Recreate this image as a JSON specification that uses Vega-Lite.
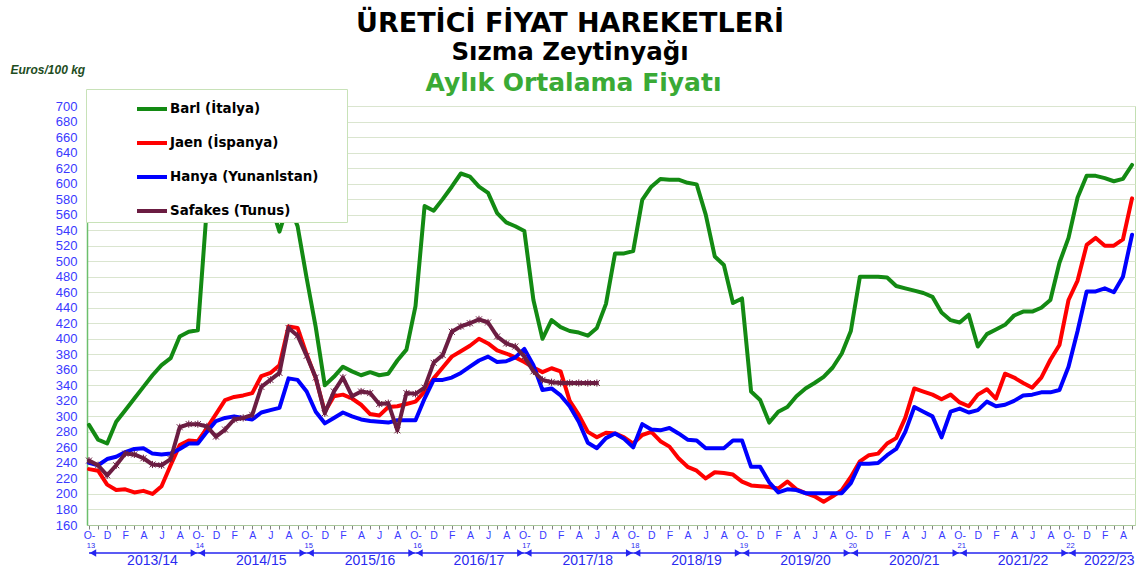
{
  "$schema": "https://vega.github.io/schema/vega-lite/v6.json",
  "width": 1048,
  "height": 419,
  "autosize": {"type": "none"},
  "padding": {"left": 87, "top": 106, "right": 4, "bottom": 48},
  "background": "white",
  "config": {
    "view": {"stroke": "#c2dfb2", "strokeWidth": 1},
    "font": "Liberation Sans"
  },
  "title": {
    "text": "ÜRETİCİ FİYAT HAREKETLERİ",
    "subtitle": "Sızma Zeytinyağı",
    "anchor": "middle",
    "frame": "group",
    "dx": -41,
    "dy": 4,
    "offset": 2,
    "font": "DejaVu Sans",
    "fontSize": 27,
    "fontWeight": "bold",
    "color": "#000000",
    "subtitleFont": "DejaVu Sans",
    "subtitleFontSize": 24.5,
    "subtitleFontWeight": "bold",
    "subtitleColor": "#000000",
    "subtitlePadding": 3
  },
  "datasets": {
    "prices": [
      {"m":0,"bari":289,"jaen":232,"hanya":240,"safakes":243},
      {"m":1,"bari":270,"jaen":230,"hanya":237,"safakes":237},
      {"m":2,"bari":265,"jaen":212,"hanya":245,"safakes":224},
      {"m":3,"bari":293,"jaen":205,"hanya":248,"safakes":237},
      {"m":4,"bari":308,"jaen":206,"hanya":254,"safakes":252},
      {"m":5,"bari":323,"jaen":202,"hanya":258,"safakes":251},
      {"m":6,"bari":338,"jaen":204,"hanya":259,"safakes":246},
      {"m":7,"bari":353,"jaen":200,"hanya":252,"safakes":238},
      {"m":8,"bari":366,"jaen":210,"hanya":251,"safakes":237},
      {"m":9,"bari":375,"jaen":237,"hanya":252,"safakes":245},
      {"m":10,"bari":403,"jaen":263,"hanya":258,"safakes":286},
      {"m":11,"bari":409,"jaen":269,"hanya":265,"safakes":290},
      {"m":12,"bari":411,"jaen":268,"hanya":265,"safakes":290},
      {"m":13,"bari":570,"jaen":285,"hanya":280,"safakes":287},
      {"m":14,"bari":615,"jaen":303,"hanya":294,"safakes":274},
      {"m":15,"bari":625,"jaen":321,"hanya":298,"safakes":283},
      {"m":16,"bari":630,"jaen":325,"hanya":300,"safakes":296},
      {"m":17,"bari":635,"jaen":327,"hanya":298,"safakes":298},
      {"m":18,"bari":630,"jaen":330,"hanya":296,"safakes":302},
      {"m":19,"bari":610,"jaen":352,"hanya":305,"safakes":338},
      {"m":20,"bari":575,"jaen":356,"hanya":308,"safakes":347},
      {"m":21,"bari":538,"jaen":366,"hanya":311,"safakes":356},
      {"m":22,"bari":575,"jaen":416,"hanya":349,"safakes":414},
      {"m":23,"bari":545,"jaen":414,"hanya":347,"safakes":404},
      {"m":24,"bari":478,"jaen":380,"hanya":332,"safakes":378},
      {"m":25,"bari":415,"jaen":349,"hanya":306,"safakes":350},
      {"m":26,"bari":340,"jaen":306,"hanya":291,"safakes":304},
      {"m":27,"bari":351,"jaen":326,"hanya":298,"safakes":332},
      {"m":28,"bari":364,"jaen":328,"hanya":305,"safakes":350},
      {"m":29,"bari":358,"jaen":323,"hanya":300,"safakes":326},
      {"m":30,"bari":353,"jaen":315,"hanya":296,"safakes":332},
      {"m":31,"bari":357,"jaen":303,"hanya":294,"safakes":330},
      {"m":32,"bari":353,"jaen":301,"hanya":293,"safakes":316},
      {"m":33,"bari":355,"jaen":312,"hanya":292,"safakes":317},
      {"m":34,"bari":372,"jaen":313,"hanya":295,"safakes":282},
      {"m":35,"bari":386,"jaen":316,"hanya":295,"safakes":330},
      {"m":36,"bari":442,"jaen":319,"hanya":295,"safakes":329},
      {"m":37,"bari":571,"jaen":332,"hanya":323,"safakes":337},
      {"m":38,"bari":565,"jaen":349,"hanya":347,"safakes":369},
      {"m":39,"bari":580,"jaen":363,"hanya":347,"safakes":379},
      {"m":40,"bari":596,"jaen":377,"hanya":350,"safakes":409},
      {"m":41,"bari":613,"jaen":384,"hanya":356,"safakes":416},
      {"m":42,"bari":609,"jaen":391,"hanya":364,"safakes":420},
      {"m":43,"bari":596,"jaen":400,"hanya":372,"safakes":425},
      {"m":44,"bari":588,"jaen":394,"hanya":377,"safakes":421},
      {"m":45,"bari":562,"jaen":385,"hanya":370,"safakes":403},
      {"m":46,"bari":550,"jaen":381,"hanya":371,"safakes":394},
      {"m":47,"bari":545,"jaen":376,"hanya":376,"safakes":390},
      {"m":48,"bari":539,"jaen":370,"hanya":387,"safakes":377},
      {"m":49,"bari":450,"jaen":363,"hanya":366,"safakes":358},
      {"m":50,"bari":400,"jaen":357,"hanya":334,"safakes":347},
      {"m":51,"bari":424,"jaen":362,"hanya":336,"safakes":344},
      {"m":52,"bari":415,"jaen":358,"hanya":327,"safakes":343},
      {"m":53,"bari":410,"jaen":320,"hanya":313,"safakes":343},
      {"m":54,"bari":408,"jaen":302,"hanya":293,"safakes":343},
      {"m":55,"bari":404,"jaen":280,"hanya":266,"safakes":343},
      {"m":56,"bari":414,"jaen":273,"hanya":259,"safakes":343},
      {"m":57,"bari":445,"jaen":279,"hanya":272},
      {"m":58,"bari":510,"jaen":278,"hanya":278},
      {"m":59,"bari":510,"jaen":273,"hanya":271},
      {"m":60,"bari":513,"jaen":265,"hanya":260},
      {"m":61,"bari":579,"jaen":276,"hanya":290},
      {"m":62,"bari":596,"jaen":280,"hanya":283},
      {"m":63,"bari":606,"jaen":268,"hanya":282},
      {"m":64,"bari":605,"jaen":261,"hanya":285},
      {"m":65,"bari":605,"jaen":246,"hanya":278},
      {"m":66,"bari":601,"jaen":235,"hanya":270},
      {"m":67,"bari":599,"jaen":230,"hanya":269},
      {"m":68,"bari":560,"jaen":220,"hanya":259},
      {"m":69,"bari":506,"jaen":228,"hanya":259},
      {"m":70,"bari":495,"jaen":227,"hanya":259},
      {"m":71,"bari":446,"jaen":225,"hanya":269},
      {"m":72,"bari":452,"jaen":216,"hanya":269},
      {"m":73,"bari":332,"jaen":211,"hanya":235},
      {"m":74,"bari":321,"jaen":210,"hanya":235},
      {"m":75,"bari":292,"jaen":209,"hanya":215},
      {"m":76,"bari":306,"jaen":207,"hanya":202},
      {"m":77,"bari":312,"jaen":216,"hanya":206},
      {"m":78,"bari":326,"jaen":206,"hanya":205},
      {"m":79,"bari":336,"jaen":201,"hanya":201},
      {"m":80,"bari":343,"jaen":197,"hanya":201},
      {"m":81,"bari":351,"jaen":190,"hanya":201},
      {"m":82,"bari":363,"jaen":197,"hanya":201},
      {"m":83,"bari":381,"jaen":205,"hanya":201},
      {"m":84,"bari":410,"jaen":222,"hanya":214},
      {"m":85,"bari":480,"jaen":242,"hanya":239},
      {"m":86,"bari":480,"jaen":250,"hanya":239},
      {"m":87,"bari":480,"jaen":252,"hanya":240},
      {"m":88,"bari":479,"jaen":265,"hanya":250},
      {"m":89,"bari":468,"jaen":272,"hanya":258},
      {"m":90,"bari":465,"jaen":298,"hanya":280},
      {"m":91,"bari":462,"jaen":336,"hanya":312},
      {"m":92,"bari":459,"jaen":332,"hanya":306},
      {"m":93,"bari":454,"jaen":328,"hanya":300},
      {"m":94,"bari":434,"jaen":322,"hanya":273},
      {"m":95,"bari":424,"jaen":328,"hanya":306},
      {"m":96,"bari":421,"jaen":318,"hanya":310},
      {"m":97,"bari":431,"jaen":313,"hanya":305},
      {"m":98,"bari":390,"jaen":328,"hanya":308},
      {"m":99,"bari":406,"jaen":335,"hanya":319},
      {"m":100,"bari":412,"jaen":323,"hanya":313},
      {"m":101,"bari":418,"jaen":355,"hanya":315},
      {"m":102,"bari":430,"jaen":350,"hanya":320},
      {"m":103,"bari":435,"jaen":343,"hanya":327},
      {"m":104,"bari":435,"jaen":337,"hanya":328},
      {"m":105,"bari":440,"jaen":350,"hanya":331},
      {"m":106,"bari":450,"jaen":373,"hanya":331},
      {"m":107,"bari":498,"jaen":392,"hanya":334},
      {"m":108,"bari":530,"jaen":450,"hanya":364},
      {"m":109,"bari":582,"jaen":475,"hanya":410},
      {"m":110,"bari":610,"jaen":521,"hanya":461},
      {"m":111,"bari":610,"jaen":530,"hanya":461},
      {"m":112,"bari":607,"jaen":520,"hanya":465},
      {"m":113,"bari":603,"jaen":520,"hanya":460},
      {"m":114,"bari":606,"jaen":528,"hanya":480},
      {"m":115,"bari":624,"jaen":581,"hanya":534}
    ],
    "seasons": [
      {"season":"2013/14","yr":"13","s":0,"e":12,"mid":6},
      {"season":"2014/15","yr":"14","s":12,"e":24,"mid":18},
      {"season":"2015/16","yr":"15","s":24,"e":36,"mid":30},
      {"season":"2016/17","yr":"16","s":36,"e":48,"mid":42},
      {"season":"2017/18","yr":"17","s":48,"e":60,"mid":54},
      {"season":"2018/19","yr":"18","s":60,"e":72,"mid":66},
      {"season":"2019/20","yr":"19","s":72,"e":84,"mid":78},
      {"season":"2020/21","yr":"20","s":84,"e":96,"mid":90},
      {"season":"2021/22","yr":"21","s":96,"e":108,"mid":102},
      {"season":"2022/23","yr":"22","s":108,"e":115,"mid":111.5}
    ]
  },
  "resolve": {"axis": {"x": "independent", "y": "independent"}},
  "layer": [
    {
      "data": {"name": "prices"},
      "transform": [{"fold": ["bari", "jaen", "hanya", "safakes"], "as": ["series", "value"]}],
      "mark": {"type": "line", "strokeJoin": "round", "strokeCap": "round"},
      "encoding": {
        "x": {
          "field": "m", "type": "quantitative",
          "scale": {"domain": [-0.22, 115.33], "nice": false, "zero": false},
          "axis": {
            "orient": "bottom",
            "title": null,
            "grid": false,
            "values": [0,1,2,3,4,5,6,7,8,9,10,11,12,13,14,15,16,17,18,19,20,21,22,23,24,25,26,27,28,29,30,31,32,33,34,35,36,37,38,39,40,41,42,43,44,45,46,47,48,49,50,51,52,53,54,55,56,57,58,59,60,61,62,63,64,65,66,67,68,69,70,71,72,73,74,75,76,77,78,79,80,81,82,83,84,85,86,87,88,89,90,91,92,93,94,95,96,97,98,99,100,101,102,103,104,105,106,107,108,109,110,111,112,113,114,115],
            "labelExpr": "datum.value % 2 == 0 ? ['O-','D','F','A','J','A'][floor((datum.value % 12) / 2)] : ''",
            "labelFont": "Liberation Sans",
            "labelFontSize": 10.5,
            "labelColor": "#3a3aff",
            "labelPadding": 1,
            "labelFlush": false,
            "labelOverlap": false,
            "labelBound": false,
            "tickSize": 4,
            "tickColor": "#808080",
            "domainColor": "#a9c79a"
          }
        },
        "y": {
          "field": "value", "type": "quantitative",
          "scale": {"domain": [160, 700], "nice": false, "zero": false},
          "axis": {
            "orient": "left",
            "values": [160,180,200,220,240,260,280,300,320,340,360,380,400,420,440,460,480,500,520,540,560,580,600,620,640,660,680,700],
            "title": "Euros/100 kg",
            "titleAngle": 0,
            "titleAlign": "left",
            "titleBaseline": "alphabetic",
            "titleX": -77,
            "titleY": -33,
            "titleFont": "Liberation Sans",
            "titleFontStyle": "italic",
            "titleFontWeight": "bold",
            "titleFontSize": 12,
            "titleColor": "#1e4d1e",
            "labelFont": "Liberation Sans",
            "labelFontSize": 13,
            "labelColor": "#3a3aff",
            "labelOverlap": false,
            "ticks": false,
            "labelPadding": 10,
            "domainColor": "#6cbf6c",
            "domainWidth": 1.5,
            "grid": true,
            "gridColor": "#dae5cf",
            "gridWidth": 1
          }
        },
        "color": {
          "field": "series", "type": "nominal",
          "scale": {"domain": ["bari", "jaen", "hanya", "safakes"], "range": ["#138a13", "#ff0000", "#0000ff", "#6b1d42"]},
          "legend": {
            "orient": "none",
            "legendX": -1,
            "legendY": -17,
            "title": " ",
            "titleOrient": "right",
            "titlePadding": 26,
            "fillColor": "white",
            "strokeColor": "#c8e2b8",
            "padding": 3,
            "symbolType": "stroke",
            "symbolSize": 900,
            "symbolStrokeWidth": 4,
            "symbolOffset": 46,
            "labelOffset": 1,
            "labelFont": "DejaVu Sans",
            "labelFontWeight": "bold",
            "labelFontSize": 13.4,
            "labelColor": "#000000",
            "rowPadding": 9,
            "labelLimit": 400,
            "zindex": 1,
            "labelExpr": "{'bari': 'Barl (İtalya)', 'jaen': 'Jaen (İspanya)', 'hanya': 'Hanya (Yunanlstan)', 'safakes': 'Safakes (Tunus)'}[datum.value]"
          }
        },
        "strokeWidth": {
          "field": "series", "type": "nominal",
          "scale": {"domain": ["bari", "jaen", "hanya", "safakes"], "range": [4, 4, 4, 2.5]},
          "legend": null
        }
      }
    },
    {
      "data": {"name": "prices"},
      "transform": [{"filter": "isValid(datum.safakes)"}],
      "mark": {"type": "point", "shape": "M-1,-1L1,1M-1,1L1,-1M0,-1.2L0,1.2", "filled": false, "size": 36, "color": "#6b1d42", "strokeWidth": 1, "opacity": 1},
      "encoding": {
        "x": {"field": "m", "type": "quantitative", "axis": null},
        "y": {"field": "safakes", "type": "quantitative", "axis": null}
      }
    },
    {
      "data": {"name": "seasons"},
      "mark": {"type": "rule", "color": "#2424f0", "strokeWidth": 1.5},
      "encoding": {
        "x": {
          "field": "s", "type": "quantitative",
          "axis": {
            "orient": "top",
            "domain": false,
            "ticks": false,
            "labels": false,
            "grid": false,
            "title": "Aylık Ortalama Fiyatı",
            "titleFont": "DejaVu Sans",
            "titleFontWeight": "bold",
            "titleFontSize": 25,
            "titleColor": "#3aaa35",
            "titleX": 486,
            "titleY": -16,
            "titleAlign": "center",
            "titleBaseline": "alphabetic"
          }
        },
        "x2": {"field": "e"},
        "y": {"datum": 124, "type": "quantitative", "axis": null}
      }
    },
    {
      "data": {"name": "seasons"},
      "mark": {"type": "point", "shape": "triangle-left", "filled": true, "size": 55, "color": "#2424f0", "opacity": 1, "xOffset": 4},
      "encoding": {
        "x": {"field": "s", "type": "quantitative", "axis": null},
        "y": {"datum": 124, "type": "quantitative", "axis": null}
      }
    },
    {
      "data": {"name": "seasons"},
      "transform": [{"filter": "datum.season != '2022/23'"}],
      "mark": {"type": "point", "shape": "triangle-right", "filled": true, "size": 55, "color": "#2424f0", "opacity": 1, "xOffset": -4},
      "encoding": {
        "x": {"field": "e", "type": "quantitative", "axis": null},
        "y": {"datum": 124, "type": "quantitative", "axis": null}
      }
    },
    {
      "data": {"name": "seasons"},
      "mark": {"type": "text", "font": "Liberation Sans", "fontSize": 14, "color": "#2a2af0", "baseline": "middle", "align": "center", "dx": 9},
      "encoding": {
        "x": {"field": "mid", "type": "quantitative", "axis": null},
        "y": {"datum": 113, "type": "quantitative", "axis": null},
        "text": {"field": "season"}
      }
    },
    {
      "data": {"name": "seasons"},
      "mark": {"type": "text", "font": "Liberation Sans", "fontSize": 7.5, "color": "#2a2af0", "baseline": "middle", "align": "center", "dx": 2},
      "encoding": {
        "x": {"field": "s", "type": "quantitative", "axis": null},
        "y": {"datum": 133.5, "type": "quantitative", "axis": null},
        "text": {"field": "yr"}
      }
    }
  ]
}
